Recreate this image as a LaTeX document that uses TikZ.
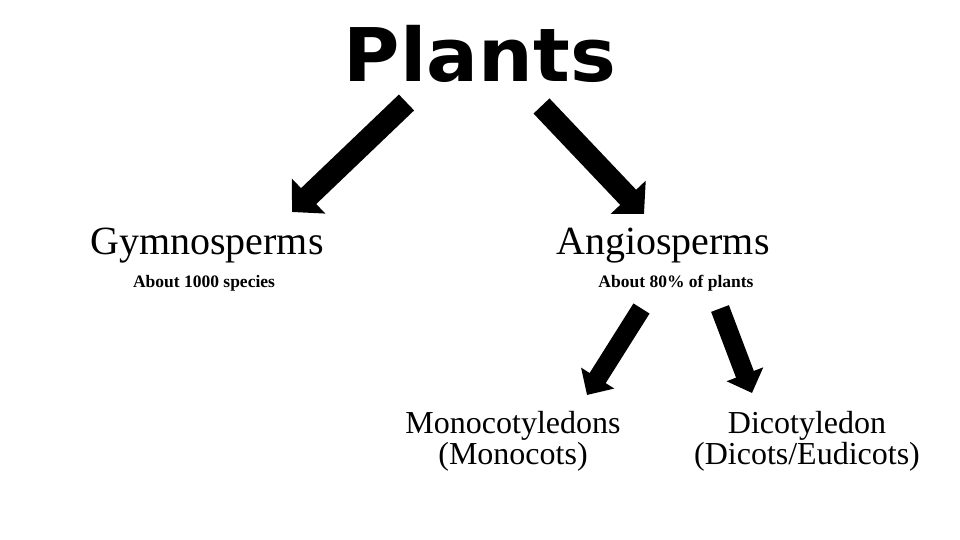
\documentclass[tikz,border=0pt]{standalone}
\usepackage{fontspec}
\setmainfont{Liberation Serif}
\newfontfamily\titlefont{DejaVu Sans}
\usetikzlibrary{arrows.meta}

\begin{document}
\begin{tikzpicture}[x=1pt,y=-1pt,
	bigarrow/.style={line width=22pt,-{Triangle[length=23pt,width=47pt]}},
	smallarrow/.style={line width=19pt,-{Triangle[length=20pt,width=38pt]}},
	heading/.style={anchor=base,inner sep=0pt,font=\fontsize{40}{48}\selectfont},
	note/.style={anchor=base,inner sep=0pt,font=\fontsize{17.5}{20}\selectfont\bfseries},
	subheading/.style={anchor=base,inner sep=0pt,font=\fontsize{32}{29}\selectfont,align=center}]
\useasboundingbox[fill=white] (0,0) rectangle (960,540);

\node (plants) at (480,82) [anchor=base,inner sep=0pt,xscale=1.04,font=\fontsize{74}{80}\selectfont\titlefont\bfseries] {Plants};

\node (gymno) at (207,254) [heading] {Gymnosperms};
\node (angio) at (663,254) [heading] {Angiosperms};

\node (gymnonote) at (204,287) [note] {About 1000 species};
\node (angionote) at (676,287) [note] {About 80\% of plants};

% base anchor sits on the second line
\node (mono) at (513,464) [subheading] {Monocotyledons\\(Monocots)};
\node (dico) at (807,464) [subheading] {Dicotyledon\\(Dicots/Eudicots)};

% arrow ends
\coordinate (plantsL) at (406.5,102.5);
\coordinate (gymnoTip) at (292,212);
\coordinate (plantsR) at (541.5,106);
\coordinate (angioTip) at (644,214);
\coordinate (angioL) at (641.5,308.5);
\coordinate (monoTip) at (587,395);
\coordinate (angioR) at (720,308.5);
\coordinate (dicoTip) at (752,393);

\draw[bigarrow] (plantsL)--(gymnoTip);
\draw[bigarrow] (plantsR)--(angioTip);
\draw[smallarrow] (angioL)--(monoTip);
\draw[smallarrow] (angioR)--(dicoTip);

\end{tikzpicture}
\end{document}
